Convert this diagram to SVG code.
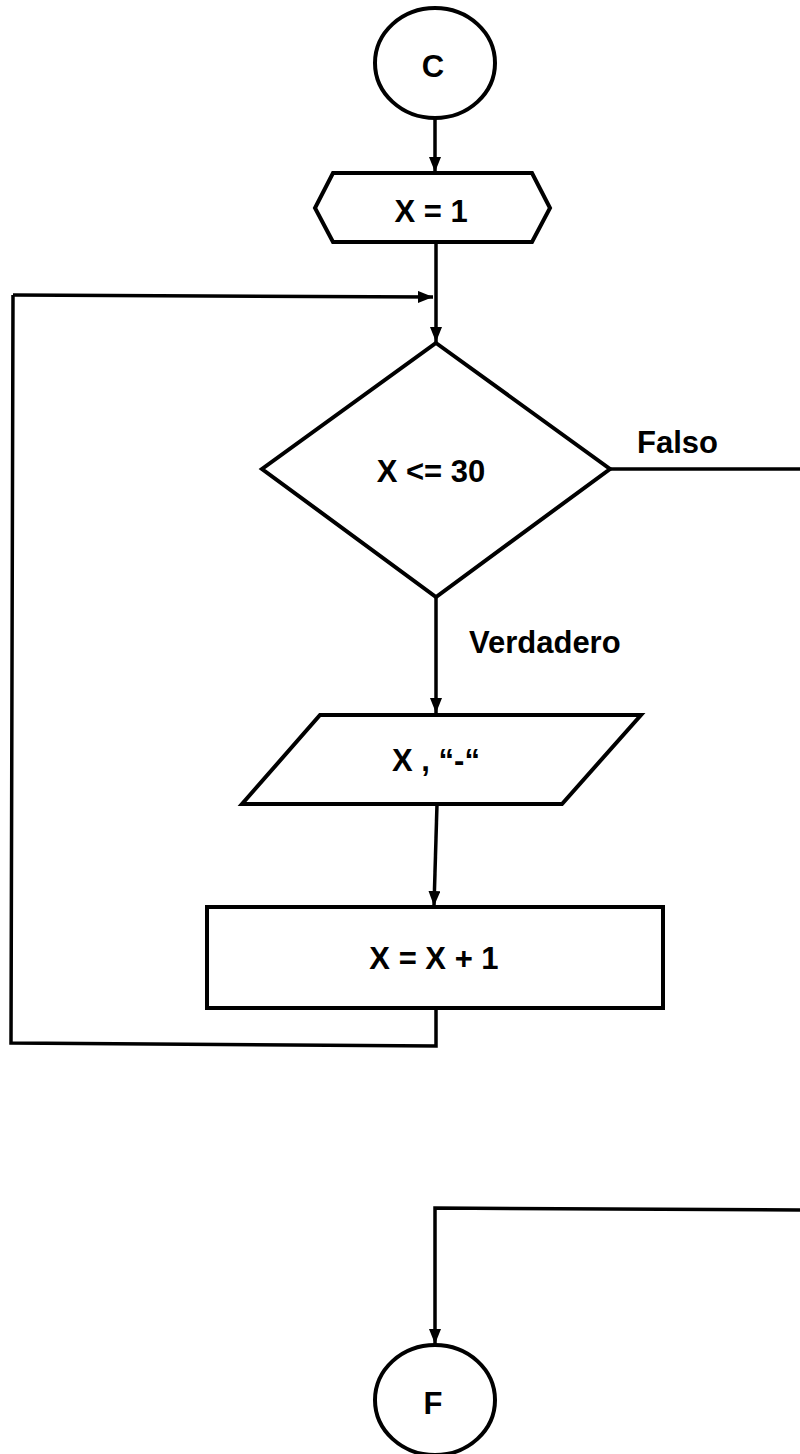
<svg xmlns="http://www.w3.org/2000/svg" width="800" height="1454" viewBox="0 0 800 1454">
  <style>
    .shape { fill: #ffffff; stroke: #000000; stroke-width: 4; stroke-linejoin: miter; }
    .edge { fill: none; stroke: #000000; stroke-width: 3.5; }
    .label { font-family: "Liberation Sans", Arial, sans-serif; font-weight: bold; font-size: 31px; fill: #000000; }
    .mid { text-anchor: middle; }
  </style>
  <defs>
    <marker id="arrow" viewBox="0 0 15 12" refX="15" refY="6" markerWidth="15" markerHeight="12" markerUnits="userSpaceOnUse" orient="auto">
      <path d="M0,0 L15,6 L0,12 Z" fill="#000000"/>
    </marker>
  </defs>

  <rect width="800" height="1454" fill="#ffffff"/>

  <!-- connectors -->
  <g id="connectors">
    <line class="edge" x1="435" y1="118" x2="435" y2="172" marker-end="url(#arrow)"/>
    <line class="edge" x1="436" y1="242" x2="436" y2="342" marker-end="url(#arrow)"/>
    <line class="edge" x1="610" y1="469" x2="800" y2="469"/>
    <line class="edge" x1="436" y1="597" x2="436" y2="713" marker-end="url(#arrow)"/>
    <line class="edge" x1="437" y1="804" x2="434" y2="906" marker-end="url(#arrow)"/>
    <polyline class="edge" points="436,1010 436,1046 11,1043 13,295"/>
    <line class="edge" x1="13" y1="295" x2="433" y2="297" marker-end="url(#arrow)"/>
    <polyline class="edge" points="800,1210 435,1208 435,1344" marker-end="url(#arrow)"/>
    <text class="label" x="637" y="453">Falso</text>
    <text class="label" x="469" y="653">Verdadero</text>
  </g>

  <!-- start connector C -->
  <g id="start">
    <ellipse class="shape" cx="435" cy="63" rx="60" ry="55"/>
    <text class="label mid" x="433" y="77">C</text>
  </g>

  <!-- initialisation -->
  <g id="init">
    <polygon class="shape" points="333,173 532,173 550,208 532,242 333,242 315,208"/>
    <text class="label mid" x="431" y="222">X = 1</text>
  </g>

  <!-- loop condition -->
  <g id="condition">
    <polygon class="shape" points="436,343 610,469 436,597 262,469"/>
    <text class="label mid" x="431" y="482">X &lt;= 30</text>
  </g>

  <!-- output -->
  <g id="output">
    <polygon class="shape" points="320,715 641,715 562,804 242,804"/>
    <text class="label mid" x="436" y="771">X , “-“</text>
  </g>

  <!-- increment -->
  <g id="increment">
    <rect class="shape" x="207" y="907" width="456" height="101"/>
    <text class="label mid" x="434" y="969">X = X + 1</text>
  </g>

  <!-- end connector F -->
  <g id="end">
    <ellipse class="shape" cx="435" cy="1400" rx="60" ry="55"/>
    <text class="label mid" x="433" y="1414">F</text>
  </g>
</svg>
